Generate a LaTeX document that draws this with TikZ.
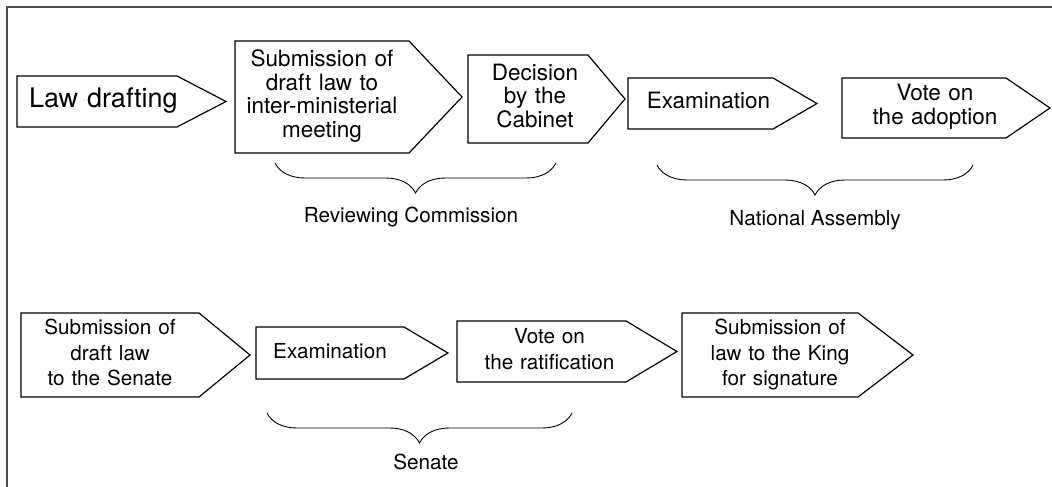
\documentclass[tikz,border=0pt]{standalone}
\usepackage{fontspec}
\setmainfont{TeX Gyre Heros}
\usetikzlibrary{shapes.symbols, decorations.pathreplacing}
\tikzset{
stage/.style={
	  draw, signal, signal to=east, line width=1.2pt, align=center,
	    inner xsep=0pt, inner ysep=0pt},
upper/.style={stage, font=\fontsize{22.5}{23.5}\selectfont},
lower/.style={stage, font=\fontsize{20.7}{25.5}\selectfont},
chamber/.style={decorate, decoration={brace, mirror, amplitude=30pt}, line width=0.9pt},
organ/.style={anchor=base, inner sep=0pt, font=\fontsize{20.7}{24}\selectfont}
}
\newcommand{\stagetext}[2]{\hspace*{#1}\begin{tabular}{@{}c@{}}#2\end{tabular}}

\begin{document}
\begin{tikzpicture}[x=1pt, y=-1pt]
	\useasboundingbox (0,0) rectangle (1052,487);
	\coordinate (ftr) at (1052,7);
	\coordinate (ftl) at (7,7);
	\coordinate (fbl) at (7,487);
	\draw[line width=1.2pt, black!70] (ftr) -- (ftl) -- (fbl);

	\node[stage, font=\fontsize{27}{28}\selectfont, text width=160pt, minimum height=51pt,
		signal pointer angle=55] (law) at (97,101.5) {\stagetext{12pt}{Law drafting}};
	\node[upper, text width=174pt, minimum height=112pt, signal pointer angle=93.1]
		(sub) at (322,97) {\stagetext{0pt}{Submission of\\draft law to\\inter-ministerial\\meeting}};
	\node[upper, text width=120pt, minimum height=88pt, signal pointer angle=99.9]
		(dec) at (528,99) {\stagetext{14pt}{Decision\\by the\\Cabinet}};
	\node[upper, text width=145pt, minimum height=51pt, signal pointer angle=60.2]
		(exa) at (700.5,103.5) {\stagetext{16pt}{Examination}};
	\node[upper, text width=164pt, minimum height=60pt, signal pointer angle=68.6]
		(vad) at (924,108) {\stagetext{22pt}{Vote on\\the adoption}};

	\node[lower, text width=178pt, minimum height=84pt, signal pointer angle=78.9]
		(sen) at (110,355) {\stagetext{0pt}{Submission of\\draft law\\to the Senate}\hspace*{6pt}};
	\node[lower, text width=148pt, minimum height=52pt, signal pointer angle=61.2]
		(exs) at (330,353) {\stagetext{0pt}{Examination}};
	\node[lower, text width=169pt, minimum height=61pt, signal pointer angle=61.8]
		(vra) at (541.5,351.5) {\stagetext{16pt}{Vote on\\the ratification}};
	\node[lower, text width=176pt, minimum height=84pt, signal pointer angle=74.7]
		(kin) at (770,355) {\stagetext{20pt}{Submission of\\law to the King\\for signature}};

	\coordinate (rc1) at (275,163);
	\coordinate (rc2) at (556,163);
	\coordinate (na1) at (657,165);
	\coordinate (na2) at (973,165);
	\coordinate (se1) at (267,413);
	\coordinate (se2) at (572,413);
	\draw[chamber] (rc1) -- (rc2);
	\draw[chamber] (na1) -- (na2);
	\draw[chamber] (se1) -- (se2);
	\node[organ] (rc) at (411,222) {Reviewing Commission};
	\node[organ] (na) at (815,225) {National Assembly};
	\node[organ] (se) at (426,469) {Senate};
\end{tikzpicture}
\end{document}
